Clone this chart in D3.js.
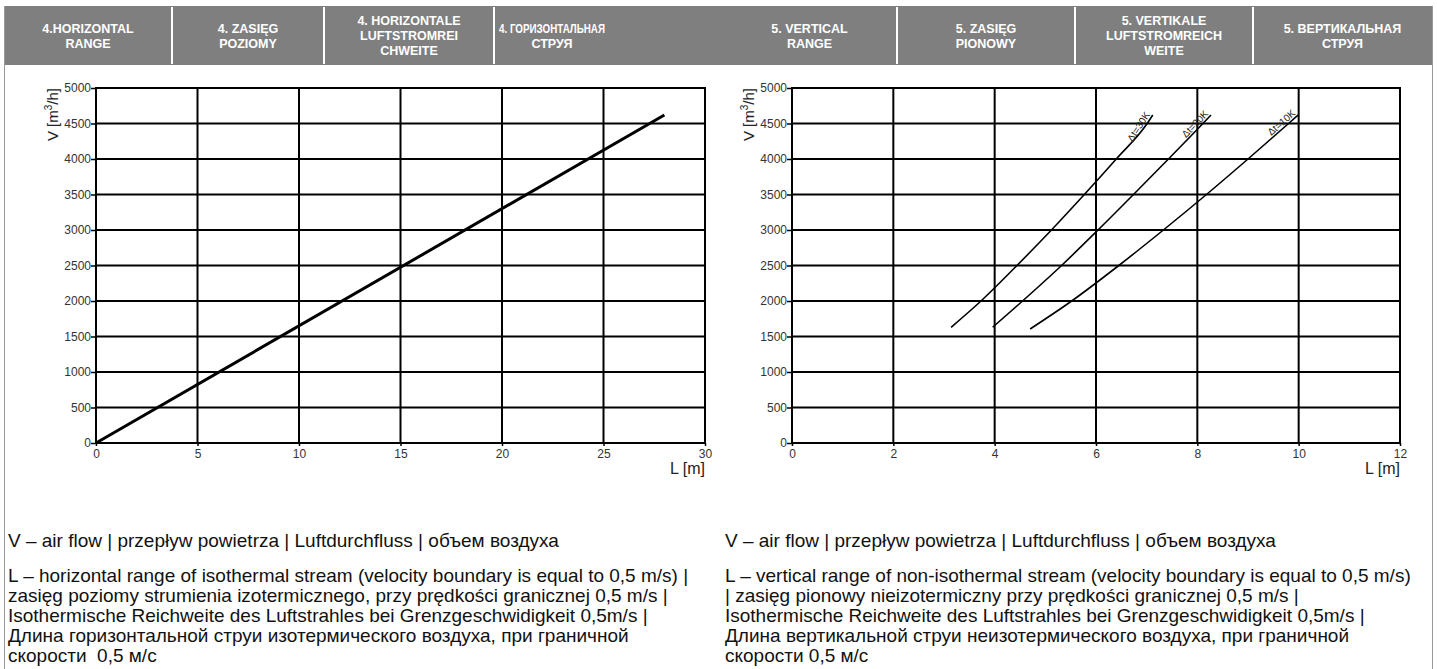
<!DOCTYPE html>
<html>
<head>
<meta charset="utf-8">
<script src="https://cdn.jsdelivr.net/npm/d3@7"></script>
<style>
body{margin:0;background:#fff}
svg{display:block;font-family:Arial,"Liberation Sans",sans-serif}
</style>
</head>
<body>
<svg id="c" width="1437" height="669"></svg>
<script>
// ---- data ----
const yTicks=[0,500,1000,1500,2000,2500,3000,3500,4000,4500,5000];
const xTicksLeft=[0,5,10,15,20,25,30];
const xTicksRight=[0,2,4,6,8,10,12];

// horizontal range (left chart)
const horizL=[0,28];
const horizV=[0,4620];

// vertical range (right chart), one curve per temperature difference
const dtNames=["Δt=30K","Δt=20K","Δt=10K"];
const dtV=[1630,2000,2500,3000,3500,4000,4500,4620];
const dt30L=[3.14,3.73,4.44,5.12,5.77,6.40,7.01,7.12];
const dt20L=[3.96,4.55,5.32,6.04,6.74,7.43,8.11,8.27];
const dt10L=[4.70,5.52,6.45,7.33,8.18,9.00,9.80,9.99];
const dt10V=[1606,2000,2500,3000,3500,4000,4500,4620];

const headLeft=[["4.HORIZONTAL","RANGE"],["4. ZASIĘG","POZIOMY"],["4. HORIZONTALE","LUFTSTROMREI","CHWEITE"],["4. ГОРИЗОНТАЛЬНАЯ","СТРУЯ"]];
const headRight=[["5. VERTICAL","RANGE"],["5. ZASIĘG","PIONOWY"],["5. VERTIKALE","LUFTSTROMREICH","WEITE"],["5. ВЕРТИКАЛЬНАЯ","СТРУЯ"]];

const notesLeft=["V – air flow | przepływ powietrza | Luftdurchfluss | объем воздуха",
"L – horizontal range of isothermal stream (velocity boundary is equal to 0,5 m/s) |",
"zasięg poziomy strumienia izotermicznego, przy prędkości granicznej 0,5 m/s |",
"Isothermische Reichweite des Luftstrahles bei Grenzgeschwidigkeit 0,5m/s |",
"Длина горизонтальной струи изотермического воздуха, при граничной",
"скорости  0,5 м/с"];
const notesRight=["V – air flow | przepływ powietrza | Luftdurchfluss | объем воздуха",
"L – vertical range of non-isothermal stream (velocity boundary is equal to 0,5 m/s)",
"| zasięg pionowy nieizotermiczny przy prędkości granicznej 0,5 m/s |",
"Isothermische Reichweite des Luftstrahles bei Grenzgeschwidigkeit 0,5m/s |",
"Длина вертикальной струи неизотермического воздуха, при граничной",
"скорости 0,5 м/с"];

// ---- layout ----
const svg=d3.select("#c");
const gray="#7f7f7f";

// header band + panel frame
svg.append("rect").attr("x",4).attr("y",6).attr("width",1429).attr("height",59).attr("fill",gray);
svg.append("line").attr("x1",4.5).attr("x2",4.5).attr("y1",6).attr("y2",669).attr("stroke","#999");
svg.append("line").attr("x1",1432.5).attr("x2",1432.5).attr("y1",6).attr("y2",669).attr("stroke","#999");

function header(cells,cuts){
  const g=svg.append("g");
  g.selectAll("line").data(cuts.slice(1,-1)).join("line")
    .attr("x1",d=>d).attr("x2",d=>d).attr("y1",7).attr("y2",64)
    .attr("stroke","#fff").attr("stroke-width",2);
  cells.forEach((lines,i)=>{
    const cx=(cuts[i]+cuts[i+1])/2, w=cuts[i+1]-cuts[i]-10;
    const lh=15, top=36-(lines.length-1)*lh/2;
    g.append("text").attr("text-anchor","middle").attr("fill","#fff")
      .attr("font-weight","bold").attr("font-size",12.5)
      .selectAll("tspan").data(lines).join("tspan")
      .attr("x",cx).attr("y",(d,j)=>top+j*lh).attr("dy","0.35em").text(d=>d)
      .each(function(){
        // squeeze lines that are wider than their cell
        if(this.getComputedTextLength()>w)
          d3.select(this).attr("textLength",w).attr("lengthAdjust","spacingAndGlyphs");
      });
  });
}
header(headLeft,[4,172,324,494,610]);
header(headRight,[722,897,1075,1253,1432]);

function chart(x0,x1,xMax,xt){
  const x=d3.scaleLinear().domain([0,xMax]).range([x0,x1]);
  const y=d3.scaleLinear().domain([0,5000]).range([443,88]);
  const g=svg.append("g");
  g.append("g").selectAll("line").data(xt).join("line")
    .attr("x1",d=>x(d)).attr("x2",d=>x(d)).attr("y1",y(0)).attr("y2",y(5000))
    .attr("stroke","#000").attr("stroke-width",2).attr("stroke-linecap","square");
  g.append("g").selectAll("line").data(yTicks).join("line")
    .attr("x1",x(0)).attr("x2",x(xMax)).attr("y1",d=>y(d)).attr("y2",d=>y(d))
    .attr("stroke","#000").attr("stroke-width",2).attr("stroke-linecap","square");
  const ax=g.append("g").attr("transform",`translate(0,${y(0)})`)
    .call(d3.axisBottom(x).tickValues(xt).tickSize(3).tickPadding(3).tickFormat(d3.format("d")));
  const ay=g.append("g").attr("transform",`translate(${x(0)},0)`)
    .call(d3.axisLeft(y).tickValues(yTicks).tickSize(5).tickPadding(0).tickFormat(d3.format("d")));
  [ax,ay].forEach(a=>{
    a.select(".domain").remove();
    a.selectAll("line").attr("stroke","#000").attr("stroke-width",1.5);
    a.selectAll("text").attr("font-size",12).attr("fill","#333").attr("font-family",null);
  });
  g.append("text").attr("x",x(xMax)).attr("y",474).attr("text-anchor","end")
    .attr("font-size",16).attr("fill","#222").text("L [m]");
  const vl=g.append("text").attr("transform",`translate(${x(0)-38},${y(5000)}) rotate(-90)`)
    .attr("text-anchor","end").attr("font-size",15).attr("fill","#222");
  vl.append("tspan").text("V [m");
  vl.append("tspan").attr("font-size",10).attr("dy",-6).text("3");
  vl.append("tspan").attr("dy",6).text("/h]");
  return {g,x,y};
}

// left chart
const L=chart(96,705,30,xTicksLeft);
L.g.append("path").datum(d3.zip(horizL,horizV))
  .attr("fill","none").attr("stroke","#000").attr("stroke-width",3)
  .attr("d",d3.line().x(d=>L.x(d[0])).y(d=>L.y(d[1])));

// right chart
const R=chart(792,1400,12,xTicksRight);
const curves=[d3.zip(dt30L,dtV),d3.zip(dt20L,dtV),d3.zip(dt10L,dt10V)];
const line=d3.line().curve(d3.curveMonotoneX).x(d=>R.x(d[0])).y(d=>R.y(d[1]));
curves.forEach((c,i)=>{
  R.g.append("path").datum(c).attr("fill","none").attr("stroke","#000")
    .attr("stroke-width",1.6).attr("d",line);
  const a=c[c.length-2], b=c[c.length-1];
  const ang=Math.atan2(R.y(b[1])-R.y(a[1]),R.x(b[0])-R.x(a[0]))*180/Math.PI;
  R.g.append("text").attr("transform",`translate(${R.x(b[0])},${R.y(b[1])}) rotate(${ang})`)
    .attr("text-anchor","end").attr("dy",-2).attr("dx",-1)
    .attr("font-size",10).attr("fill","#222").text(dtNames[i]);
});

// notes below the charts
function notes(lines,x0){
  const t=svg.append("text").attr("font-size",19).attr("fill","#111")
    .style("white-space","pre");
  t.selectAll("tspan").data(lines).join("tspan")
    .attr("x",x0).attr("y",(d,i)=>i===0?547:582+(i-1)*20).text(d=>d);
}
notes(notesLeft,8);
notes(notesRight,725);
</script>
</body>
</html>
